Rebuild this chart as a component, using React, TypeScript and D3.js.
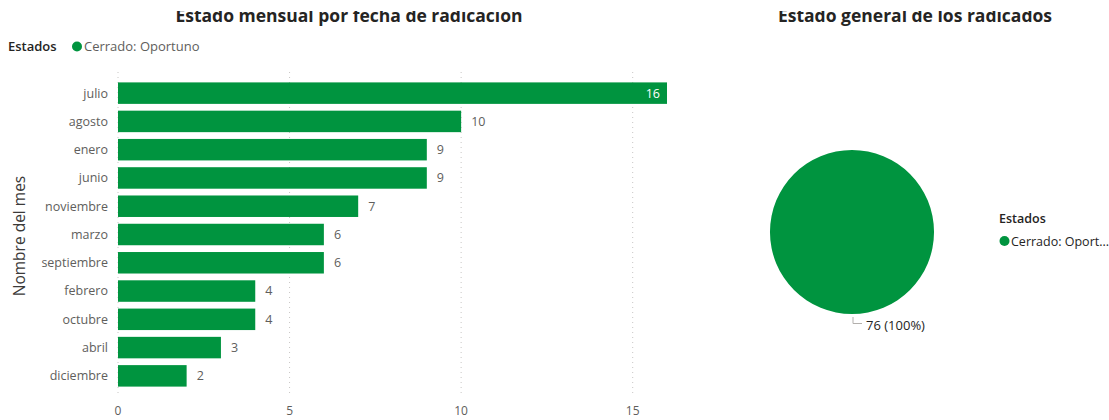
import React from "react";
import * as d3 from "d3";

const months = ["julio", "agosto", "enero", "junio", "noviembre", "marzo", "septiembre", "febrero", "octubre", "abril", "diciembre"];
const counts = [16, 10, 9, 9, 7, 6, 6, 4, 4, 3, 2];
const xTicks = [0, 5, 10, 15];
const pieLabels = ["Cerrado: Oportuno"];
const pieValues = [76];

const GREEN = "#00943f";
const FONT = "'Segoe UI', 'Open Sans', sans-serif";

export default function App() {
  const W = 1109, H = 420;
  const x = d3.scaleLinear().domain([0, 16]).range([118, 667]);
  const y = d3.scaleBand().domain(months).range([79, 390]).paddingInner(0.24).paddingOuter(0.12);

  const total = d3.sum(pieValues);
  const pie = d3.pie<number>().sort(null)(pieValues);
  const arc = d3.arc<d3.PieArcDatum<number>>().innerRadius(0).outerRadius(82);
  const cx = 852, cy = 232;

  return (
    <svg width={W} height={H} style={{ position: "absolute", left: 0, top: 0, background: "#fff", fontFamily: FONT }}>
      <defs>
        <clipPath id="titleClip">
          <rect x={0} y={11} width={W} height={30} />
        </clipPath>
      </defs>
      {/* titles (top cut off as in the reference) */}
      <g clipPath="url(#titleClip)">
        <text x={349} y={22} textAnchor="middle" fontSize={17.5} fontWeight={700} fill="#252423">Estado mensual por fecha de radicación</text>
        <text x={915} y={22} textAnchor="middle" fontSize={17.5} fontWeight={700} fill="#252423">Estado general de los radicados</text>
      </g>
      {/* legend */}
      <text x={8} y={51} fontSize={13} fontWeight={600} fill="#252423">Estados</text>
      <circle cx={77} cy={46.5} r={5} fill={GREEN} />
      <text x={84} y={51} fontSize={13} fill="#605e5c">Cerrado: Oportuno</text>

      {/* gridlines */}
      {xTicks.map(t => (
        <line key={"g" + t} x1={x(t)} x2={x(t)} y1={72} y2={395} stroke="#c8c6c4" strokeWidth={1} strokeDasharray="1,4" />
      ))}
      {/* bars */}
      {months.map((m, i) => {
        const v = counts[i];
        const yy = y(m)!;
        const bw = x(v) - x(0);
        const inside = v === d3.max(counts);
        return (
          <g key={m}>
            <rect x={x(0)} y={yy} width={bw} height={y.bandwidth()} fill={GREEN} />
            <text x={108} y={yy + y.bandwidth() / 2} dy="0.35em" textAnchor="end" fontSize={12.5} fill="#605e5c">{m}</text>
            {inside ? (
              <text x={x(v) - 7} y={yy + y.bandwidth() / 2} dy="0.35em" textAnchor="end" fontSize={12.5} fill="#ffffff">{v}</text>
            ) : (
              <text x={x(v) + 10} y={yy + y.bandwidth() / 2} dy="0.35em" textAnchor="start" fontSize={12.5} fill="#605e5c">{v}</text>
            )}
          </g>
        );
      })}
      {/* x ticks */}
      {xTicks.map(t => (
        <text key={"t" + t} x={x(t)} y={415} textAnchor="middle" fontSize={12} fill="#605e5c">{t}</text>
      ))}
      {/* y axis title */}
      <text transform={`translate(25,${236}) rotate(-90)`} textAnchor="middle" fontSize={15.5} fill="#3b3a39">Nombre del mes</text>

      {/* Pie */}
      <g transform={`translate(${cx},${cy})`}>
        {pie.map((p, i) => (
          <path key={i} d={arc(p) || ""} fill={GREEN} />
        ))}
      </g>
      {/* data label */}
      <polyline points={`${cx + 1},${cy + 85} ${cx + 1},${cy + 91.5} ${cx + 10},${cy + 91.5}`} fill="none" stroke="#b3b0ad" strokeWidth={1} />
      <text x={cx + 14} y={cy + 98} fontSize={13} fill="#252423">{`${pieValues[0]} (${Math.round((pieValues[0] / total) * 100)}%)`}</text>
      {/* pie legend */}
      <text x={999} y={223} fontSize={12.5} fontWeight={600} fill="#252423">Estados</text>
      <circle cx={1004.5} cy={241} r={5} fill={GREEN} />
      <text x={1011} y={245.5} fontSize={12.5} fill="#252423">{pieLabels[0].length > 14 ? "Cerrado: Oport..." : pieLabels[0]}</text>
    </svg>
  );
}
